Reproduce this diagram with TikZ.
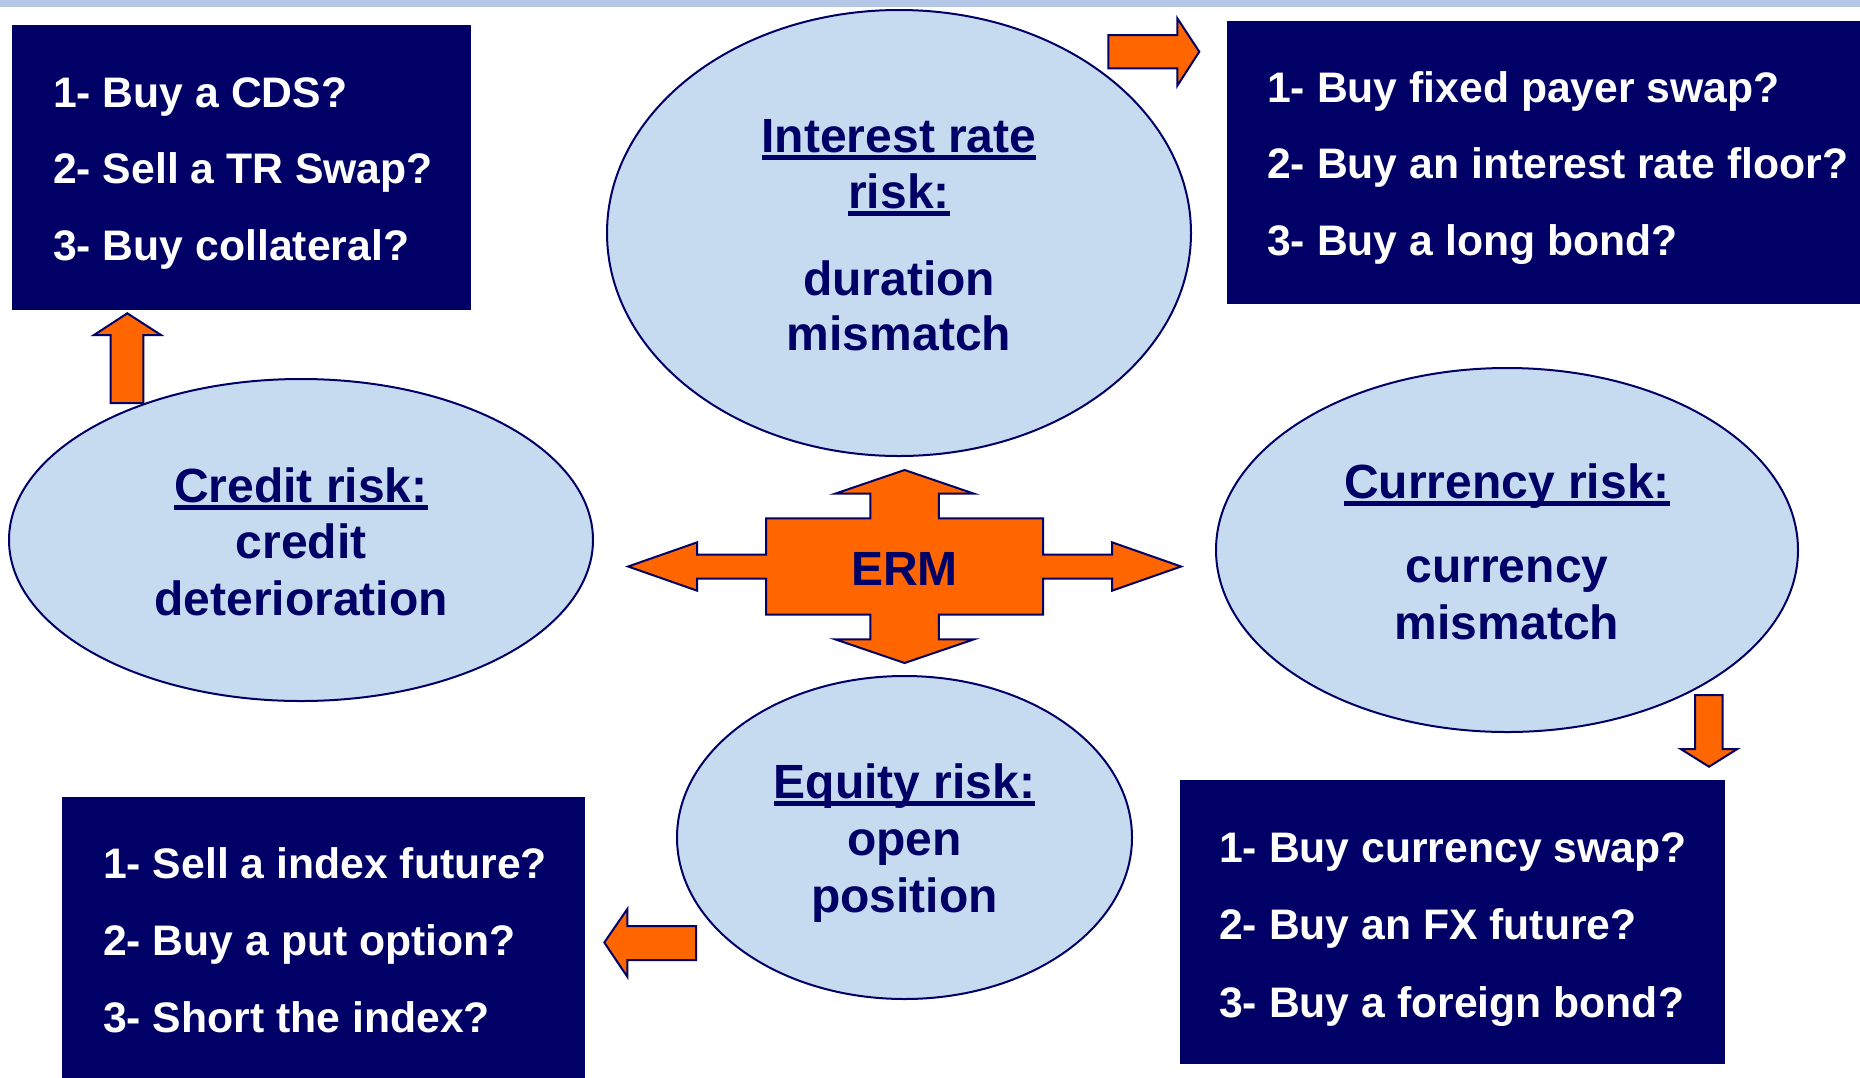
\documentclass[tikz,border=0pt]{standalone}
\usepackage{fontspec}
\setmainfont{Liberation Sans}
\usetikzlibrary{shapes.geometric}
\definecolor{navy}{HTML}{000066}
\definecolor{orng}{HTML}{FF6600}
\definecolor{lblue}{HTML}{C6DBEF}
\definecolor{topbar}{HTML}{B4C7E7}
\newcommand\myul[1]{\setbox0=\hbox{#1}\rlap{\copy0}\raisebox{-8.3pt}{\rule{\wd0}{5pt}}}
\begin{document}
\begin{tikzpicture}[x=1pt,y=-1pt,
  riskell/.style={ellipse, draw=navy, line width=2pt, fill=lblue, inner sep=0pt},
  actbox/.style={fill=navy, draw=none, inner sep=0pt, anchor=north west},
  boxtxt/.style={anchor=base west, inner sep=0pt, text=white, font=\fontsize{42.7}{50}\selectfont\bfseries},
  elltxt/.style={anchor=base, inner sep=0pt, text=navy, font=\fontsize{48}{57}\selectfont\bfseries},
  blockarrow/.style={fill=orng, draw=navy, line width=2pt, line join=miter}]
\useasboundingbox (0,0) rectangle (1860,1077);
\fill[topbar] (0,0) rectangle (1860,7);

% action boxes
\node[actbox, minimum width=459pt, minimum height=285pt] (box1) at (12,25) {};
\node[actbox, minimum width=633pt, minimum height=283pt] (box2) at (1227,21) {};
\node[actbox, minimum width=523pt, minimum height=282pt] (box3) at (62,797) {};
\node[actbox, minimum width=545pt, minimum height=284pt] (box4) at (1180,780) {};

% risk ellipses
\node[riskell, minimum width=584pt, minimum height=446pt] (ir) at (899,233) {};
\node[riskell, minimum width=584pt, minimum height=322pt] (cr) at (301,540) {};
\node[riskell, minimum width=582pt, minimum height=364pt] (cu) at (1507,550) {};
\node[riskell, minimum width=455pt, minimum height=323pt] (eq) at (904.5,837.5) {};

% ERM cross
\draw[blockarrow] (904.6,470) -- (974.1,493.7) -- (938.85,493.7) -- (938.85,518.3)
  -- (1043.1,518.3) -- (1043.1,554.5) -- (1112,554.5) -- (1112,542.3) -- (1181.1,566.5)
  -- (1112,590.7) -- (1112,578.5) -- (1043.1,578.5) -- (1043.1,614.7) -- (938.85,614.7)
  -- (938.85,639.3) -- (974.1,639.3) -- (904.6,663) -- (835.1,639.3) -- (870.35,639.3)
  -- (870.35,614.7) -- (766.1,614.7) -- (766.1,578.5) -- (697.2,578.5) -- (697.2,590.7)
  -- (628.1,566.5) -- (697.2,542.3) -- (697.2,554.5) -- (766.1,554.5) -- (766.1,518.3)
  -- (870.35,518.3) -- (870.35,493.7) -- (835.1,493.7) -- cycle;
\node[elltxt] (erm) at (904.6,585) {ERM};

% small block arrows
\draw[blockarrow] (1108.3,35) -- (1177.3,35) -- (1177.3,18.3) -- (1199.3,51.7)
  -- (1177.3,85.7) -- (1177.3,68.3) -- (1108.3,68.3) -- cycle;
\draw[blockarrow] (110.7,403) -- (110.7,335) -- (94,335) -- (127.3,313.3)
  -- (161,335) -- (143.3,335) -- (143.3,403) -- cycle;
\draw[blockarrow] (1695,695) -- (1722.7,695) -- (1722.7,749) -- (1737.3,749)
  -- (1709,766.7) -- (1680.7,749) -- (1695,749) -- cycle;
\draw[blockarrow] (696,926) -- (627.3,926) -- (627.3,909) -- (604.3,942.5)
  -- (627.3,976.7) -- (627.3,960) -- (696,960) -- cycle;

% ellipse texts
\node[elltxt] (ir1) at (899,152) {\myul{Interest rate}};
\node[elltxt] (ir2) at (899,208) {\myul{risk:}};
\node[elltxt] (ir3) at (899,295) {duration};
\node[elltxt] (ir4) at (899,350) {mismatch};

\node[elltxt] (cr1) at (301,502) {\myul{Credit risk:}};
\node[elltxt] (cr2) at (301,558) {credit};
\node[elltxt] (cr3) at (301,615) {deterioration};

\node[elltxt] (cu1) at (1507,498) {\myul{Currency risk:}};
\node[elltxt] (cu2) at (1507,582) {currency};
\node[elltxt] (cu3) at (1507,639) {mismatch};

\node[elltxt] (eq1) at (904.5,798) {\myul{Equity risk:}};
\node[elltxt] (eq2) at (904.5,855) {open};
\node[elltxt] (eq3) at (904.5,912) {position};

% box texts
\node[boxtxt] (b11) at (53,107) {1- Buy a CDS?};
\node[boxtxt] (b12) at (53,183) {2- Sell a TR Swap?};
\node[boxtxt] (b13) at (53,260) {3- Buy collateral?};

\node[boxtxt] (b21) at (1267,102) {1- Buy fixed payer swap?};
\node[boxtxt] (b22) at (1267,178) {2- Buy an interest rate floor?};
\node[boxtxt] (b23) at (1267,255) {3- Buy a long bond?};

\node[boxtxt] (b31) at (103,878) {1- Sell a index future?};
\node[boxtxt] (b32) at (103,955) {2- Buy a put option?};
\node[boxtxt] (b33) at (103,1032) {3- Short the index?};

\node[boxtxt] (b41) at (1219,862) {1- Buy currency swap?};
\node[boxtxt] (b42) at (1219,939) {2- Buy an FX future?};
\node[boxtxt] (b43) at (1219,1017) {3- Buy a foreign bond?};
\end{tikzpicture}
\end{document}
